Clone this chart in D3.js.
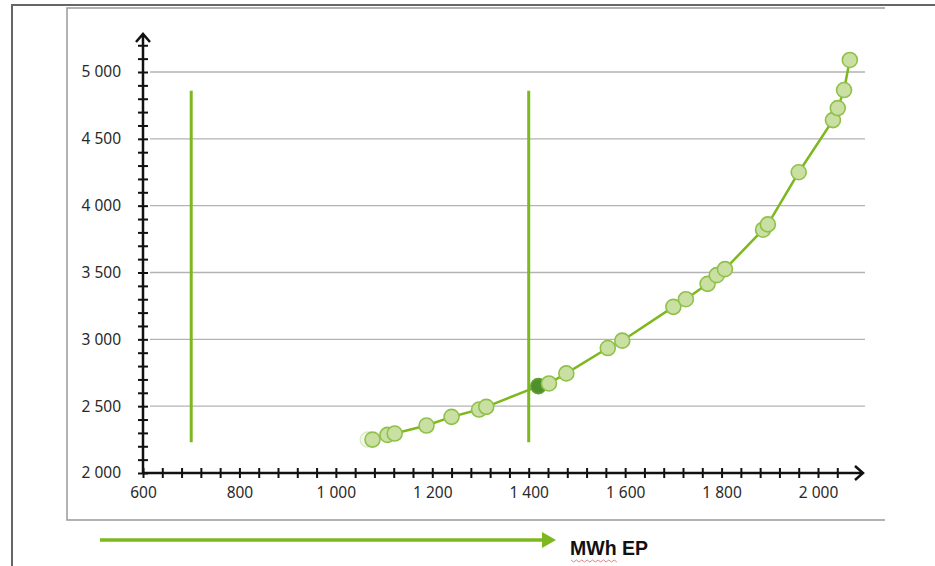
<!DOCTYPE html>
<meta charset="utf-8">
<script src="https://d3js.org/d3.v7.min.js"></script>
<style>
  body { margin: 0; background: #fff; }
</style>
<div id="chart"></div>
<script>

// curve points (MWh EP, y value)
var mwh  = [1076, 1107, 1122, 1188, 1240, 1297, 1312, 1420, 1442, 1478, 1564, 1594,
            1700, 1726, 1771, 1790, 1807, 1886, 1896, 1960, 2031, 2041, 2054, 2066];
var vals = [2250, 2285, 2295, 2355, 2420, 2475, 2495, 2650, 2670, 2745, 2935, 2990,
            3243, 3300, 3415, 3480, 3525, 3820, 3860, 4250, 4640, 4730, 4865, 5090];
var highlight = 1420;      // the dark point
var ghostPoint = [1066, 2250];  // faint outline left of the first point
var markers = [700, 1400]; // vertical green lines
var markerRange = [2230, 4860];
var xTicks = [600, 800, 1000, 1200, 1400, 1600, 1800, 2000];
var yTicks = [2000, 2500, 3000, 3500, 4000, 4500, 5000];
var xLabel = "MWh EP";

var W = 935, H = 566;
var green = "#7db81f", ptFill = "#c9e0a2", ptStroke = "#8fc14a";
var labelFont = "'Noto Sans', 'Open Sans', sans-serif";

var svg = d3.select("#chart").append("svg")
    .attr("width", W).attr("height", H);

// frames
svg.append("path").attr("d", "M12,566V5H935")
    .attr("fill", "none").attr("stroke", "#666").attr("stroke-width", 2);
svg.append("path").attr("d", "M885,8H67V520H885")
    .attr("fill", "none").attr("stroke", "#999").attr("stroke-width", 1.5);

var x = d3.scaleLinear().domain([600, 2000]).range([143, 818]);
var y = d3.scaleLinear().domain([2000, 5000]).range([473, 72]);

// gridlines
svg.append("g").selectAll("line")
  .data(yTicks.filter(function(d) { return d > 2000; }))
  .enter().append("line")
    .attr("x1", 150).attr("x2", 865)
    .attr("y1", function(d) { return y(d); })
    .attr("y2", function(d) { return y(d); })
    .attr("stroke", "#b3b3b3").attr("stroke-width", 1.3);

// axes
var fmt = function(d) { return d3.format(",")(d).replace(",", " "); };

var xAxis = svg.append("g")
  .attr("transform", "translate(0," + y(2000) + ")")
  .call(d3.axisBottom(x).tickValues(d3.range(600, 2041, 40)).tickSize(0)
    .tickFormat(function(d) { return xTicks.indexOf(d) >= 0 ? fmt(d) : ""; }));
xAxis.select(".domain").remove();
xAxis.selectAll(".tick line").attr("y1", -5).attr("y2", 5)
  .attr("stroke", "#111").attr("stroke-width", 2);
xAxis.selectAll("text").attr("dy", "0.9em").attr("y", 11)
  .attr("font-family", labelFont).attr("font-size", 15.5).attr("fill", "#2a2a2a");

var yAxis = svg.append("g")
  .attr("transform", "translate(" + x(600) + ",0)")
  .call(d3.axisLeft(y).tickValues(d3.range(2000, 5201, 100)).tickSize(0)
    .tickFormat(function(d) { return yTicks.indexOf(d) >= 0 ? fmt(d) : ""; }));
yAxis.select(".domain").remove();
yAxis.selectAll(".tick line").attr("x1", -5).attr("x2", 5)
  .attr("stroke", "#111").attr("stroke-width", 2);
yAxis.selectAll("text").attr("x", -22)
  .attr("font-family", labelFont).attr("font-size", 15.5).attr("fill", "#2a2a2a");

// axis lines with arrow heads
svg.append("path")
  .attr("d", "M" + x(600) + "," + y(2000) + "H863M855,466L863,473L855,480")
  .attr("fill", "none").attr("stroke", "#111").attr("stroke-width", 2.5);
svg.append("path")
  .attr("d", "M" + x(600) + "," + y(2000) + "V34M136,42L143,34L150,42")
  .attr("fill", "none").attr("stroke", "#111").attr("stroke-width", 2.5);

// curve
var pts = mwh.map(function(d, i) { return [d, vals[i]]; });
svg.append("path")
  .datum(pts)
  .attr("d", d3.line().x(function(d) { return x(d[0]); }).y(function(d) { return y(d[1]); }))
  .attr("fill", "none").attr("stroke", green).attr("stroke-width", 2.5);

svg.append("circle")
  .attr("cx", x(ghostPoint[0])).attr("cy", y(ghostPoint[1])).attr("r", 7.5)
  .attr("fill", "#f4f8ec").attr("stroke", "#dfeacb").attr("stroke-width", 1.5);

svg.append("g").selectAll("circle")
  .data(pts)
  .enter().append("circle")
    .attr("cx", function(d) { return x(d[0]); })
    .attr("cy", function(d) { return y(d[1]); })
    .attr("r", 7.5)
    .attr("fill", function(d) { return d[0] === highlight ? "#4f8f2c" : ptFill; })
    .attr("stroke", function(d) { return d[0] === highlight ? "#5f9e2f" : ptStroke; })
    .attr("stroke-width", 1.6);

// vertical marker lines
svg.append("g").selectAll("line")
  .data(markers)
  .enter().append("line")
    .attr("x1", function(d) { return x(d); })
    .attr("x2", function(d) { return x(d); })
    .attr("y1", y(markerRange[1])).attr("y2", y(markerRange[0]))
    .attr("stroke", green).attr("stroke-width", 3);

// bottom arrow and label
svg.append("line")
  .attr("x1", 100).attr("x2", 545).attr("y1", 540).attr("y2", 540)
  .attr("stroke", green).attr("stroke-width", 3.5);
svg.append("path").attr("d", "M542,532L556,540L542,548Z").attr("fill", green);

svg.append("text")
  .attr("x", 570).attr("y", 555)
  .attr("font-family", "'Liberation Sans', Arial, sans-serif")
  .attr("font-weight", "bold").attr("font-size", 19.5).attr("fill", "#111")
  .text(xLabel);
svg.append("path")
  .attr("d", "M571,560" + d3.range(1, 18).map(function(i) {
    return "L" + (571 + i * 2.7) + "," + (i % 2 ? 562 : 560);
  }).join(""))
  .attr("fill", "none").attr("stroke", "#d66").attr("stroke-width", 0.8);

</script>
